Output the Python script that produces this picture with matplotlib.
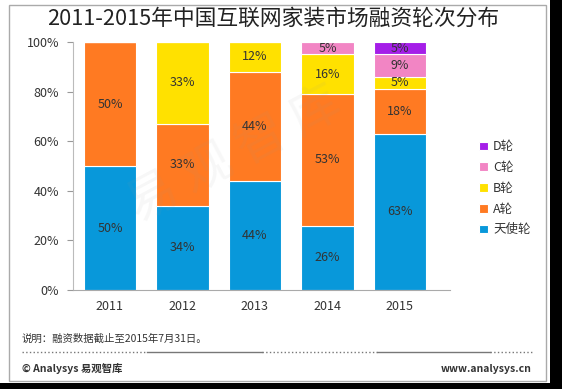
import matplotlib.pyplot as plt
from matplotlib.patches import Rectangle
from matplotlib.lines import Line2D

plt.rcParams['font.family'] = ['Noto Sans CJK SC', 'DejaVu Sans']

# data
years = ['2011', '2012', '2013', '2014', '2015']
rounds = ['天使轮', 'A轮', 'B轮', 'C轮', 'D轮']
angel = [50, 34, 44, 26, 63]
round_a = [50, 33, 44, 53, 18]
round_b = [0, 33, 12, 16, 5]
round_c = [0, 0, 0, 5, 9]
round_d = [0, 0, 0, 0, 5]
colors = ['#0898DA', '#FF7A22', '#FFE100', '#F285C4', '#A51EE8']

series = [angel, round_a, round_b, round_c, round_d]

W, H = 562, 389
fig = plt.figure(figsize=(W / 100, H / 100), dpi=100)
ax = fig.add_axes([73 / W, 1 - 290 / H, (450 - 73) / W, (290 - 42) / H])

x = range(len(years))
bottom = [0] * len(years)
handles = []
for vals, name, c in zip(series, rounds, colors):
    b = ax.bar(x, vals, width=0.73, bottom=bottom, color=c,
               edgecolor='white', linewidth=0.8, label=name)
    handles.append(b)
    for i, v in enumerate(vals):
        if v > 0:
            ax.text(i, bottom[i] + v / 2, f'{v}%', ha='center', va='center',
                    fontsize=9, color='#333333')
    bottom = [bt + v for bt, v in zip(bottom, vals)]

ax.set_xlim(-0.51, 4.69)
ax.set_ylim(0, 100)
ax.set_yticks([0, 20, 40, 60, 80, 100])
ax.set_yticklabels(['0%', '20%', '40%', '60%', '80%', '100%'])
ax.set_xticks(list(x))
ax.set_xticklabels(years)
ax.tick_params(axis='y', labelsize=9, colors='#999999', labelcolor='#333333',
               length=4, direction='out', pad=6)
ax.tick_params(axis='x', labelsize=9, labelcolor='#333333', length=0, pad=7)
for s in ['top', 'right']:
    ax.spines[s].set_visible(False)
ax.spines['left'].set_color('#bbbbbb')
ax.spines['bottom'].set_color('#aaaaaa')
ax.set_zorder(2)
ax.patch.set_alpha(0)

# legend
fig.legend(handles[::-1], rounds[::-1], loc='upper left',
           bbox_to_anchor=(468 / W, 1 - 129 / H), frameon=False,
           fontsize=9, labelspacing=0.62, handlelength=0.7, handleheight=0.7,
           handletextpad=0.4, labelcolor='#333333')

# title
fig.text(273 / W, 1 - 19 / H, '2011-2015年中国互联网家装市场融资轮次分布',
         ha='center', va='center', fontsize=15.7, color='#222222')

# watermark
fig.text(235 / W, 1 - 155 / H, '易 观 智 库', ha='center', va='center',
         fontsize=36, color='#999999', alpha=0.08, rotation=28)

# footer
fig.text(22 / W, 1 - 339 / H, '说明：融资数据截止至2015年7月31日。',
         ha='left', va='center', fontsize=7.5, color='#333333')
segs = [(22, 147, ':'), (147, 262, '-'), (262, 377, ':'), (377, 490, '-'), (490, 532, ':')]
for x0, x1, ls in segs:
    fig.add_artist(Line2D([x0 / W, x1 / W], [1 - 352 / H, 1 - 352 / H],
                          color='#777777', lw=1, ls=ls))
fig.text(22 / W, 1 - 368 / H, '© Analysys 易观智库', ha='left', va='center',
         fontsize=7.5, color='#333333', fontweight='bold')
fig.text(532 / W, 1 - 369 / H, 'www.analysys.cn', ha='right', va='center',
         fontsize=7.5, color='#333333', fontweight='bold')

# frame and dark margin
fig.add_artist(Rectangle((9 / W, 1 - 381 / H), (546 - 9) / W, (381 - 5) / H,
                         fill=False, edgecolor='#aaaaaa', lw=1))
fig.add_artist(Rectangle((550 / W, 0), 12 / W, 1, color='black', lw=0))
fig.add_artist(Rectangle((0, 0), 1, 6 / H, color='black', lw=0))

fig.savefig('out.png', dpi=100)
